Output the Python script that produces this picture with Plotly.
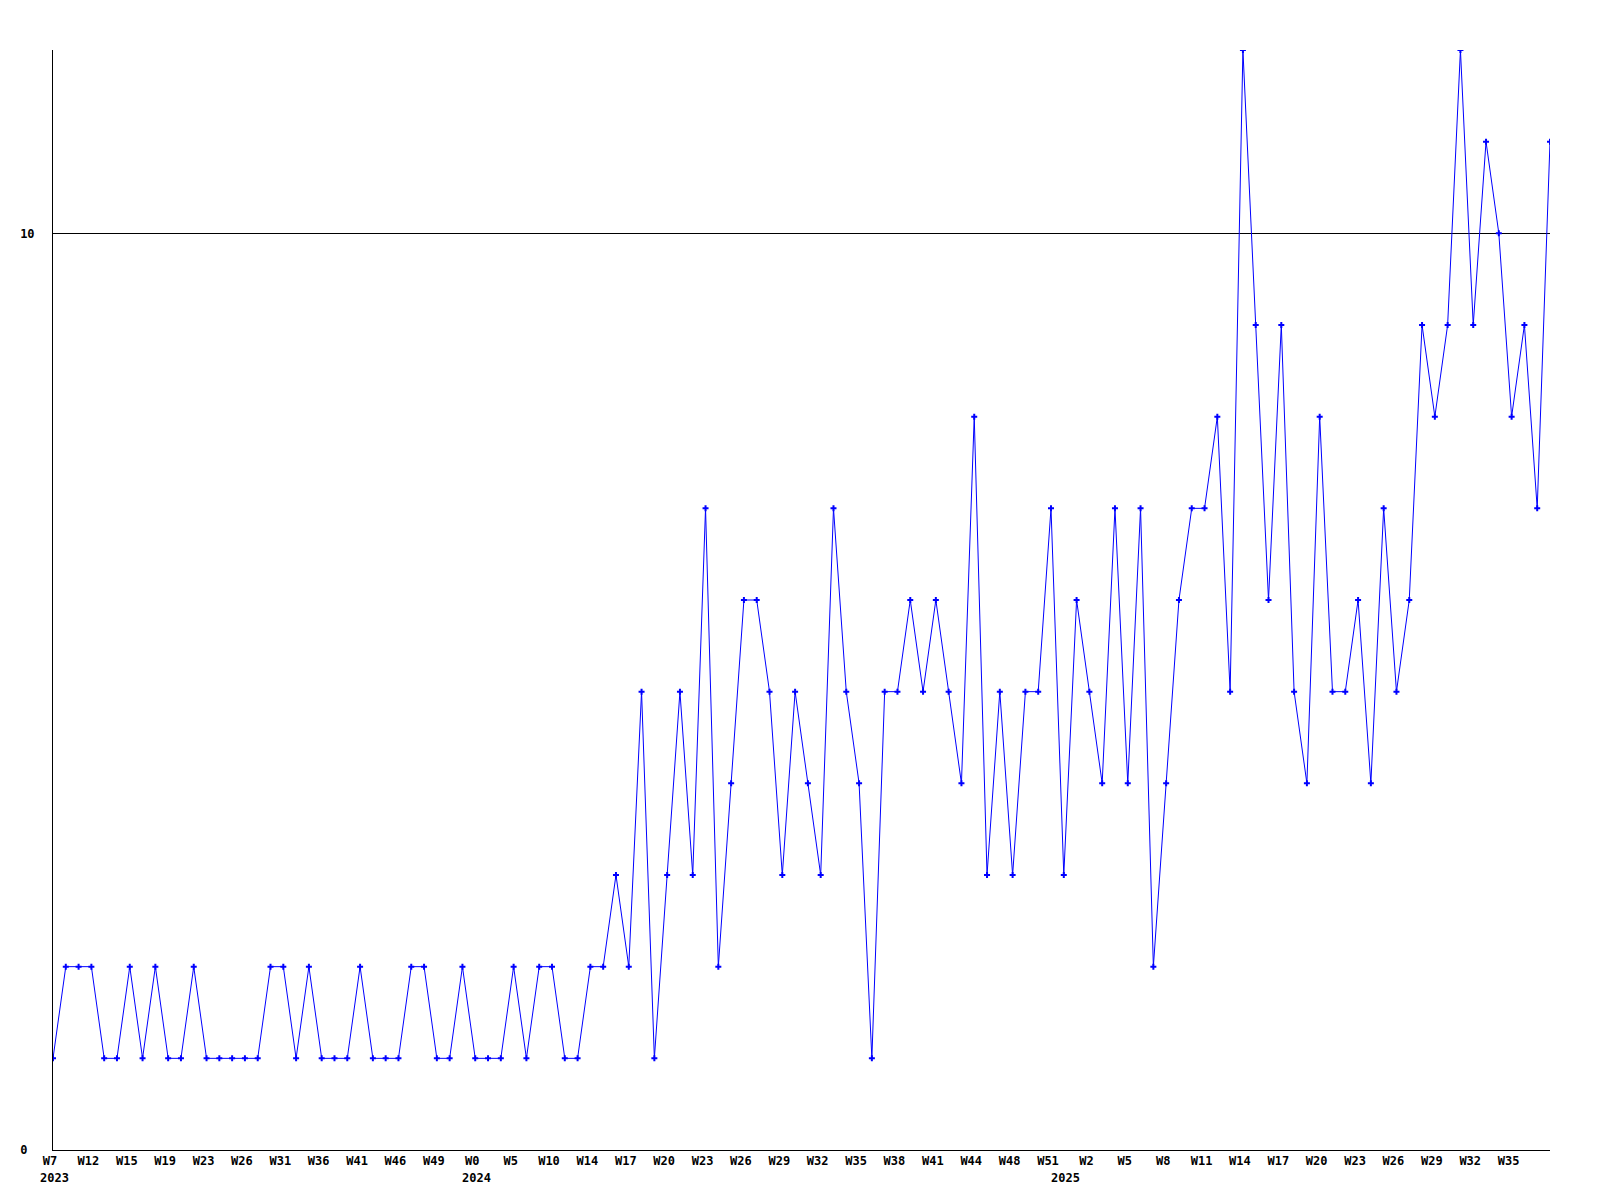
import plotly.graph_objects as go

# ---- data ----
values = [
    1, 2, 2, 2, 1, 1, 2, 1, 2, 1,
    1, 2, 1, 1, 1, 1, 1, 2, 2, 1,
    2, 1, 1, 1, 2, 1, 1, 1, 2, 2,
    1, 1, 2, 1, 1, 1, 2, 1, 2, 2,
    1, 1, 2, 2, 3, 2, 5, 1, 3, 5,
    3, 7, 2, 4, 6, 6, 5, 3, 5, 4,
    3, 7, 5, 4, 1, 5, 5, 6, 5, 6,
    5, 4, 8, 3, 5, 3, 5, 5, 7, 3,
    6, 5, 4, 7, 4, 7, 2, 4, 6, 7,
    7, 8, 5, 12, 9, 6, 9, 5, 4, 8,
    5, 5, 6, 4, 7, 5, 6, 9, 8, 9,
    12, 9, 11, 10, 8, 9, 7, 11,
]
week_tick_labels = [
    "W7", "W12", "W15", "W19", "W23", "W26", "W31", "W36", "W41", "W46",
    "W49", "W0", "W5", "W10", "W14", "W17", "W20", "W23", "W26", "W29",
    "W32", "W35", "W38", "W41", "W44", "W48", "W51", "W2", "W5", "W8",
    "W11", "W14", "W17", "W20", "W23", "W26", "W29", "W32", "W35",
]
tick_step = 3
year_labels = ["2023", "2024", "2025"]
year_start_index = [0, 33, 79]
y_tick_vals = [0, 10]
y_tick_text = ["0\u00a0", "10"]

x = list(range(len(values)))
tick_vals = [i * tick_step for i in range(len(week_tick_labels))]

font_family = "DejaVu Sans Mono, Liberation Mono, monospace"

fig = go.Figure()
fig.add_trace(go.Scatter(
    x=x, y=values, mode="lines+markers",
    line=dict(color="#0000ff", width=1),
    marker=dict(symbol="cross", size=5, color="#0000ff", line=dict(width=0)),
    hoverinfo="x+y", showlegend=False,
))

annotations = []
for lbl, idx in zip(year_labels, year_start_index):
    annotations.append(dict(
        x=idx, y=0, xref="x", yref="paper", text=lbl, showarrow=False,
        xanchor="left", yanchor="top", xshift=-15, yshift=-19,
        font=dict(family=font_family, size=12, color="#000000", weight="bold"),
    ))

fig.update_layout(
    width=1584, height=1184, autosize=False,
    margin=dict(l=42, r=42, t=42, b=42, pad=0),
    paper_bgcolor="#ffffff", plot_bgcolor="#ffffff",
    font=dict(family=font_family, size=12, color="#000000", weight="bold"),
    annotations=annotations,
    xaxis=dict(
        range=[0, len(values) - 1], tickmode="array",
        tickvals=tick_vals, ticktext=week_tick_labels,
        showgrid=False, zeroline=False, showline=True,
        linecolor="#000000", linewidth=1, ticks="", tickangle=0,
        ticklabelshift=-3,
        tickfont=dict(family=font_family, size=12, color="#000000", weight="bold"),
    ),
    yaxis=dict(
        range=[0, 12], tickmode="array", tickvals=y_tick_vals, ticktext=y_tick_text,
        showgrid=True, gridcolor="#000000", gridwidth=1, zeroline=False,
        showline=True, linecolor="#000000", linewidth=1, ticks="",
        ticklabelstandoff=15,
        tickfont=dict(family=font_family, size=12, color="#000000", weight="bold"),
    ),
)

fig.write_html("out.html")
